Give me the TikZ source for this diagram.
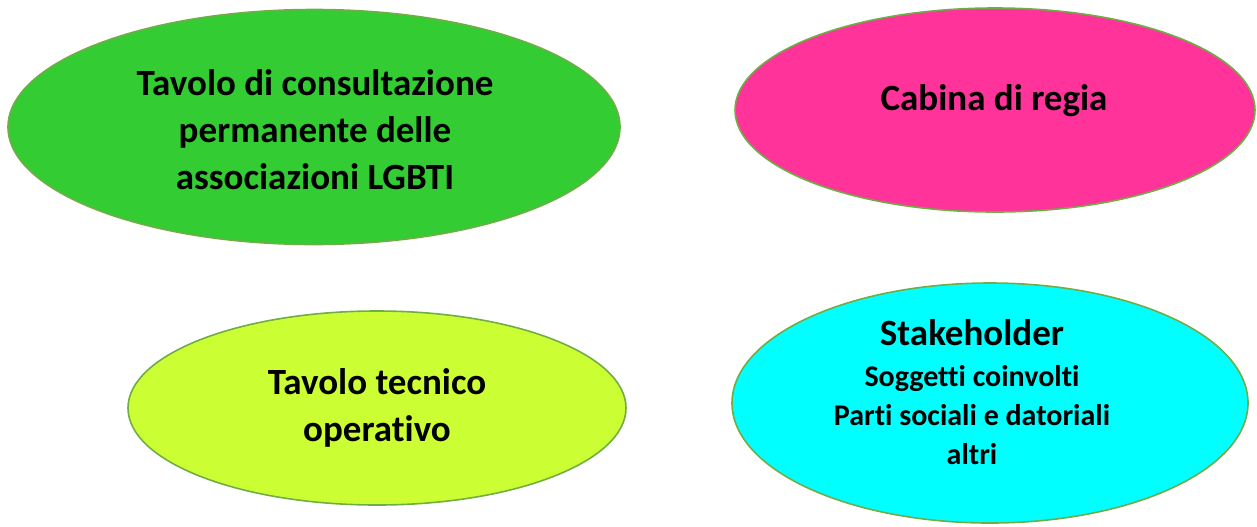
\documentclass[tikz,border=0pt]{standalone}
\usepackage{fontspec}
\setmainfont{Carlito}[Ligatures=NoCommon]
\usetikzlibrary{shapes.geometric,positioning}

\definecolor{bordo}{HTML}{70AD47}
\definecolor{verde}{HTML}{33CC33}
\definecolor{rosa}{HTML}{FF3399}
\definecolor{lime}{HTML}{CCFF33}
\definecolor{ciano}{HTML}{00FFFF}

\begin{document}
\begin{tikzpicture}[x=0.5pt,y=-0.5pt,
  oval/.style={ellipse,draw=bordo,line width=0.8pt,inner sep=0pt},
  lbl/.style={align=center,inner sep=0pt,font=\fontsize{18.5}{23.5}\selectfont\bfseries}]
  \useasboundingbox (0,0) rectangle (1257,526);

  % Ovals
  \node[oval,fill=verde,minimum width=306pt,minimum height=117.5pt] (tavolo) at (314,127) {};
  \node[oval,fill=rosa,minimum width=260pt,minimum height=102pt] (cabina) at (995,110) {};
  \node[oval,fill=lime,minimum width=249pt,minimum height=97pt] (tecnico) at (377,408) {};
  \node[oval,fill=ciano,minimum width=258pt,minimum height=120pt] (stake) at (990,403) {};

  % Labels
  \node[lbl] (tavoloTxt) at (315,130) {Tavolo di consultazione\\permanente delle\\associazioni LGBTI};
  \node[lbl] (cabinaTxt) at (994,101) {Cabina di regia};
  \node[lbl] (tecnicoTxt) at (377,408) {Tavolo tecnico\\operativo};
  \node[lbl,font=\fontsize{15}{19.5}\selectfont\bfseries] (stakeTxt) at (972,392)
    {{\fontsize{18.5}{23.5}\selectfont Stakeholder}\\[1pt]
    Soggetti coinvolti\\Parti sociali e datoriali\\altri};
\end{tikzpicture}
\end{document}
